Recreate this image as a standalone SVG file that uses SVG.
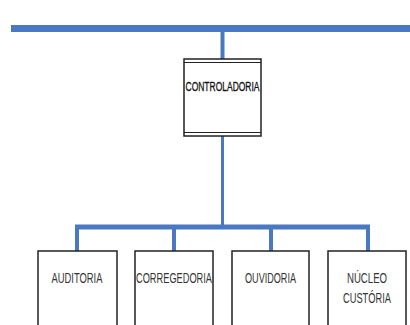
<svg xmlns="http://www.w3.org/2000/svg" width="410" height="325" viewBox="0 0 410 325">
<style>
.bg{fill:#ffffff}
.box{fill:#ffffff;stroke:#222222;stroke-width:1.5}
.bar{stroke:#4a78c2;fill:none;stroke-linecap:butt}
.lbl{font-family:"Liberation Sans",Arial,sans-serif;font-size:14px;fill:#333333;text-anchor:middle}
.lblb{font-family:"Liberation Sans",Arial,sans-serif;font-size:12.5px;fill:#111111;text-anchor:middle}
</style>
<rect class="bg" x="0" y="0" width="410" height="325"/>
<g id="connectors">
<line class="bar" x1="11" y1="28.5" x2="410" y2="28.5" stroke-width="7"/>
<line class="bar" x1="222.5" y1="28" x2="222.5" y2="59" stroke-width="4"/>
<line class="bar" x1="222.5" y1="136" x2="222.5" y2="227" stroke-width="3"/>
<line class="bar" x1="75" y1="227" x2="370" y2="227" stroke-width="5"/>
<line class="bar" x1="77" y1="225" x2="77" y2="251" stroke-width="4"/>
<line class="bar" x1="174" y1="225" x2="174" y2="251" stroke-width="4"/>
<line class="bar" x1="271" y1="225" x2="271" y2="251" stroke-width="4"/>
<line class="bar" x1="368" y1="225" x2="368" y2="251" stroke-width="4"/>
</g>
<g id="controladoria">
<rect class="box" x="184" y="59" width="77" height="77" stroke-width="2"/>
<line x1="184" y1="62.5" x2="261" y2="62.5" stroke="#222222" stroke-width="1.2"/>
<line x1="184" y1="132.5" x2="261" y2="132.5" stroke="#222222" stroke-width="1.2"/>
<text class="lblb" x="222.5" y="90.5" textLength="74" lengthAdjust="spacingAndGlyphs" stroke="#111111" stroke-width="0.3">CONTROLADORIA</text>
</g>
<g id="auditoria">
<rect class="box" x="38" y="251" width="79" height="76"/>
<text class="lbl" x="77" y="283" textLength="51" lengthAdjust="spacingAndGlyphs">AUDITORIA</text>
</g>
<g id="corregedoria">
<rect class="box" x="135" y="251" width="78" height="76"/>
<text class="lbl" x="174" y="283" textLength="76" lengthAdjust="spacingAndGlyphs">CORREGEDORIA</text>
</g>
<g id="ouvidoria">
<rect class="box" x="232" y="251" width="77" height="76"/>
<text class="lbl" x="270.5" y="283" textLength="51" lengthAdjust="spacingAndGlyphs">OUVIDORIA</text>
</g>
<g id="nucleo">
<rect class="box" x="328" y="251" width="78" height="76"/>
<text class="lbl" x="367" y="283" textLength="40" lengthAdjust="spacingAndGlyphs">NÚCLEO</text>
<text class="lbl" transform="translate(367,303) scale(0.664,1)" x="0" y="0">CUSTÓRIA</text>
</g>
</svg>
